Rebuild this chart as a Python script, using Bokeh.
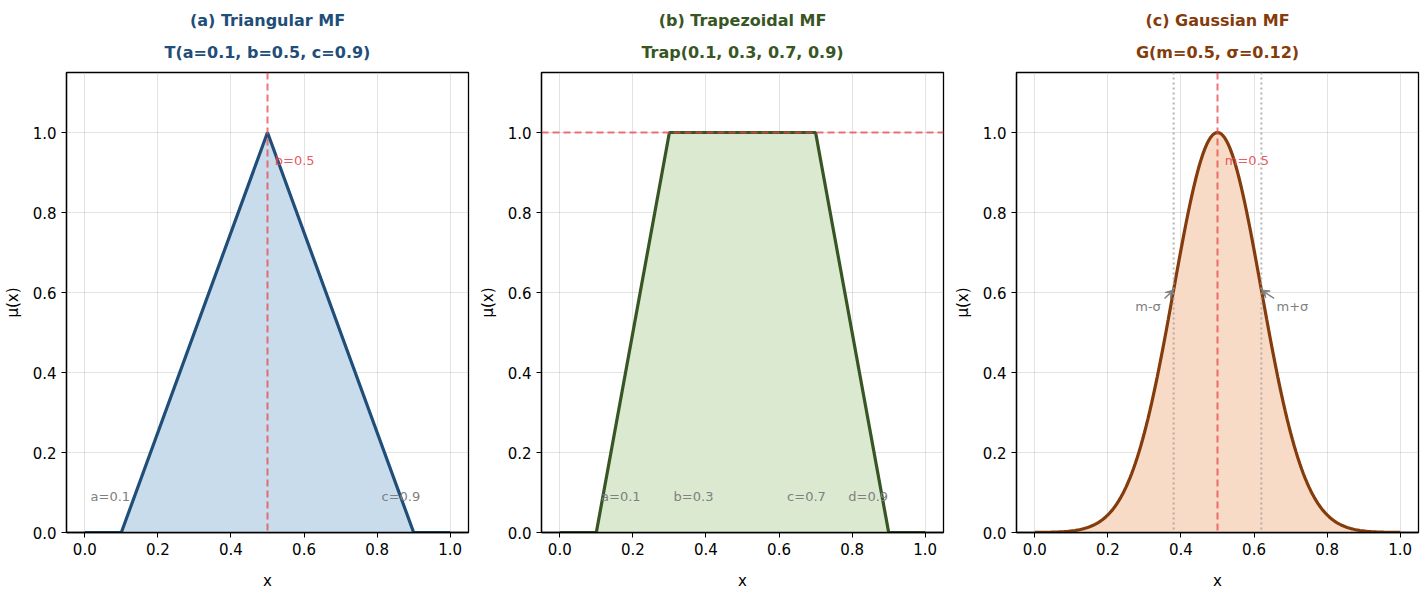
import numpy as np
from bokeh.plotting import figure
from bokeh.layouts import row
from bokeh.models import (Range1d, Span, Title, Label, Arrow, VeeHead, FixedTicker,
                          PrintfTickFormatter)
from bokeh.embed import file_html
from bokeh.resources import INLINE

# ---- data ----
tri_x = [0.0, 0.1, 0.5, 0.9, 1.0]
tri_y = [0.0, 0.0, 1.0, 0.0, 0.0]
trap_x = [0.0, 0.1, 0.3, 0.7, 0.9, 1.0]
trap_y = [0.0, 0.0, 1.0, 1.0, 0.0, 0.0]
gauss_m = 0.5
gauss_s = 0.12
gauss_x = np.linspace(0.0, 1.0, 201)
gauss_y = np.exp(-0.5 * ((gauss_x - gauss_m) / gauss_s) ** 2)

x_ticks = [0.0, 0.2, 0.4, 0.6, 0.8, 1.0]
y_ticks = [0.0, 0.2, 0.4, 0.6, 0.8, 1.0]

tri_labels = ["a=0.1", "c=0.9"]
tri_label_x = [0.07, 0.865]
trap_labels = ["a=0.1", "b=0.3", "c=0.7", "d=0.9"]
trap_label_x = [0.167, 0.366, 0.675, 0.844]
label_y = 0.09

FONT = "DejaVu Sans"


def make_fig(line1, line2, color):
    p = figure(frame_width=402, frame_height=460, output_backend="svg",
               toolbar_location=None, x_range=Range1d(-0.05, 1.05),
               y_range=Range1d(0, 1.15), min_border_left=59, min_border_right=7,
               min_border_top=10, min_border_bottom=40, title=None)
    t2 = Title(text=line2, align="center", text_color=color, text_font=FONT,
               text_font_size="16px", text_font_style="bold", standoff=22)
    t1 = Title(text=line1, align="center", text_color=color, text_font=FONT,
               text_font_size="16px", text_font_style="bold", standoff=0)
    pad = Title(text=" ", align="center", text_font=FONT, text_font_size="5px", standoff=0)
    p.add_layout(t2, "above")
    p.add_layout(t1, "above")
    p.add_layout(pad, "above")
    p.outline_line_color = "black"
    p.outline_line_width = 1.3
    p.outline_line_alpha = 1
    for ax in (p.xaxis, p.yaxis):
        ax.axis_line_color = "black"
        ax.axis_line_width = 1.3
        ax.major_tick_in = 0
        ax.major_tick_out = 5
        ax.minor_tick_line_color = None
        ax.major_label_text_font = FONT
        ax.major_label_text_font_size = "15px"
        ax.major_label_text_color = "black"
        ax.axis_label_text_font = FONT
        ax.axis_label_text_font_size = "15px"
        ax.axis_label_text_font_style = "normal"
        ax.axis_label_text_color = "black"
        ax.formatter = PrintfTickFormatter(format="%.1f")
    p.xaxis.ticker = FixedTicker(ticks=x_ticks)
    p.yaxis.ticker = FixedTicker(ticks=y_ticks)
    p.xaxis.axis_label = "x"
    p.yaxis.axis_label = "μ(x)"
    p.xaxis.axis_label_standoff = 14
    p.yaxis.axis_label_standoff = 8
    p.grid.grid_line_color = "#b0b0b0"
    p.grid.grid_line_alpha = 0.35
    p.grid.grid_line_width = 1
    return p


RED = "#e8474c"
GRAY = "#808080"
LBL = "13px"

# (a) Triangular
p1 = make_fig("(a) Triangular MF", "T(a=0.1, b=0.5, c=0.9)", "#1f4e79")
p1.varea(x=tri_x, y1=[0] * len(tri_x), y2=tri_y, fill_color="#c9dcec", fill_alpha=1)
p1.add_layout(Span(location=0.5, dimension="height", line_color=RED, line_alpha=0.75,
                   line_width=2, line_dash="7 4"))
for t, xx in zip(tri_labels, tri_label_x):
    p1.add_layout(Label(x=xx, y=label_y, text=t, text_align="center", text_baseline="middle",
                        text_color=GRAY, text_font=FONT, text_font_size=LBL))
p1.line(tri_x, tri_y, line_color="#1f4e79", line_width=3.2)
p1.add_layout(Label(x=0.52, y=0.93, text="b=0.5", text_align="left", text_baseline="middle",
                    text_color=RED, text_font=FONT, text_font_size=LBL, text_alpha=0.9))

# (b) Trapezoidal
p2 = make_fig("(b) Trapezoidal MF", "Trap(0.1, 0.3, 0.7, 0.9)", "#375623")
p2.varea(x=trap_x, y1=[0] * len(trap_x), y2=trap_y, fill_color="#dae9d0", fill_alpha=1)
p2.add_layout(Span(location=1.0, dimension="width", line_color=RED, line_alpha=0.75,
                   line_width=2, line_dash="7 4"))
for t, xx in zip(trap_labels, trap_label_x):
    p2.add_layout(Label(x=xx, y=label_y, text=t, text_align="center", text_baseline="middle",
                        text_color=GRAY, text_font=FONT, text_font_size=LBL))
p2.line(trap_x, trap_y, line_color="#375623", line_width=3.2)

# (c) Gaussian
p3 = make_fig("(c) Gaussian MF", "G(m=0.5, σ=0.12)", "#843c0c")
p3.varea(x=gauss_x, y1=np.zeros_like(gauss_x), y2=gauss_y, fill_color="#f8dbc6", fill_alpha=1)
p3.add_layout(Span(location=gauss_m, dimension="height", line_color=RED, line_alpha=0.75,
                   line_width=2, line_dash="7 4"))
for loc in (gauss_m - gauss_s, gauss_m + gauss_s):
    p3.add_layout(Span(location=loc, dimension="height", line_color="#a0a0a0", line_alpha=0.8,
                       line_width=2, line_dash="2 3"))
p3.line(gauss_x, gauss_y, line_color="#843c0c", line_width=3.2)
p3.add_layout(Label(x=0.52, y=0.93, text="m=0.5", text_align="left", text_baseline="middle",
                    text_color=RED, text_font=FONT, text_font_size=LBL, text_alpha=0.9))
peak_sig = float(np.exp(-0.5))
p3.add_layout(Label(x=0.31, y=0.565, text="m-σ", text_align="center", text_baseline="middle",
                    text_color=GRAY, text_font=FONT, text_font_size=LBL))
p3.add_layout(Label(x=0.705, y=0.565, text="m+σ", text_align="center", text_baseline="middle",
                    text_color=GRAY, text_font=FONT, text_font_size=LBL))
p3.add_layout(Arrow(x_start=0.355, y_start=0.585, x_end=gauss_m - gauss_s, y_end=peak_sig,
                    line_color=GRAY, line_width=1.5,
                    end=VeeHead(size=8, line_color=GRAY, fill_color=GRAY)))
p3.add_layout(Arrow(x_start=0.655, y_start=0.585, x_end=gauss_m + gauss_s, y_end=peak_sig,
                    line_color=GRAY, line_width=1.5,
                    end=VeeHead(size=8, line_color=GRAY, fill_color=GRAY)))

layout = row(p1, p2, p3, spacing=0)
open("out.html", "w").write(file_html(layout, INLINE))
